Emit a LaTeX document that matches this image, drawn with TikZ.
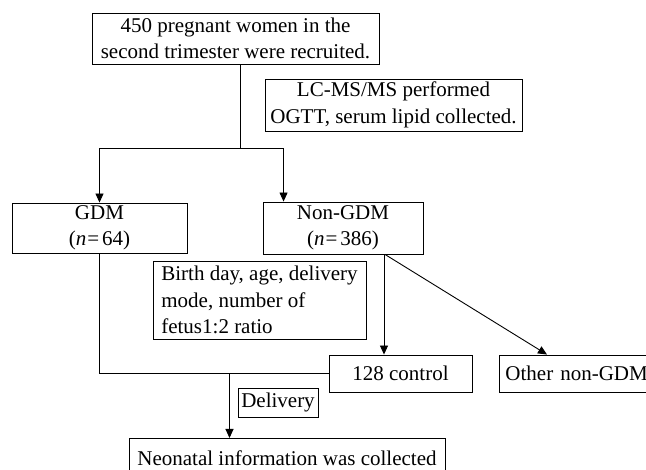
\documentclass[tikz,border=0pt]{standalone}
\usepackage{fontspec}
\setmainfont{Liberation Serif}
\usetikzlibrary{positioning, arrows.meta, calc}

\begin{document}
\begin{tikzpicture}[
    x=1pt, y=-1pt,
    every node/.style={font=\fontsize{21}{26.5}\selectfont},
    box/.style={rectangle, draw, line width=0.9pt, align=center, inner sep=2pt},
    arrow/.style={-{Triangle[width=8pt, length=9pt]}, line width=0.9pt},
    link/.style={line width=0.9pt}
  ]
    \useasboundingbox (0,0) rectangle (646,470);

    \node[box, minimum width=287pt, minimum height=51pt] (recruit) at (235.5,38.5) {450 pregnant women in the\\second trimester were recruited.};
    \node[box, minimum width=257pt, minimum height=52pt] (lcms) at (393.5,105) {LC-MS/MS performed\\OGTT, serum lipid collected.};
    \node[box, minimum width=175pt, minimum height=50pt] (gdm) at (99.5,228) {GDM\\(\textit{n}\hspace{1pt}=\hspace{3pt}64)};
    \node[box, minimum width=160pt, minimum height=52pt] (nongdm) at (343,228) {Non-GDM\\(\textit{n}\hspace{1pt}=\hspace{3pt}386)};
    \node[box, align=left, minimum width=213pt, minimum height=78pt] (birth) at (259.5,300) {Birth day, age, delivery\\mode, number of\\fetus1:2 ratio};
    \node[box, minimum width=143pt, minimum height=37pt] (control) at (400.5,373.5) {128 control};
    \node[box, anchor=west, align=left, text width=180pt, inner xsep=6pt, minimum height=37pt] (other) at (499,373.5) {Other non-GDM};
    \node[box, minimum width=80pt, minimum height=29pt, inner sep=1pt] (delivery) at (278,402.5) {Delivery};
    \node[box, anchor=north, minimum width=316pt, minimum height=40pt] (neonatal) at (287,438) {Neonatal information was collected};

    % split after recruitment
    \draw[link] ([xshift=4.5pt]recruit.south) -- ++(0,84) coordinate (split);
    \draw[arrow] (split) -| (gdm.north);
    \draw[arrow] (split) -| ([xshift=21pt]nongdm.north west);

    % non-GDM branches
    \draw[arrow] ([xshift=41pt]nongdm.south) -- ([xshift=41pt]nongdm.south |- control.north);
    \draw[arrow] ([xshift=42pt]nongdm.south) -- ([xshift=48pt]other.north west);

    % merge to delivery
    \draw[link] (gdm.south) |- (control.west);
    \coordinate (merge) at (229.5,373.5);
    \draw[arrow] (merge) -- (merge |- neonatal.north);
  \end{tikzpicture}
\end{document}
